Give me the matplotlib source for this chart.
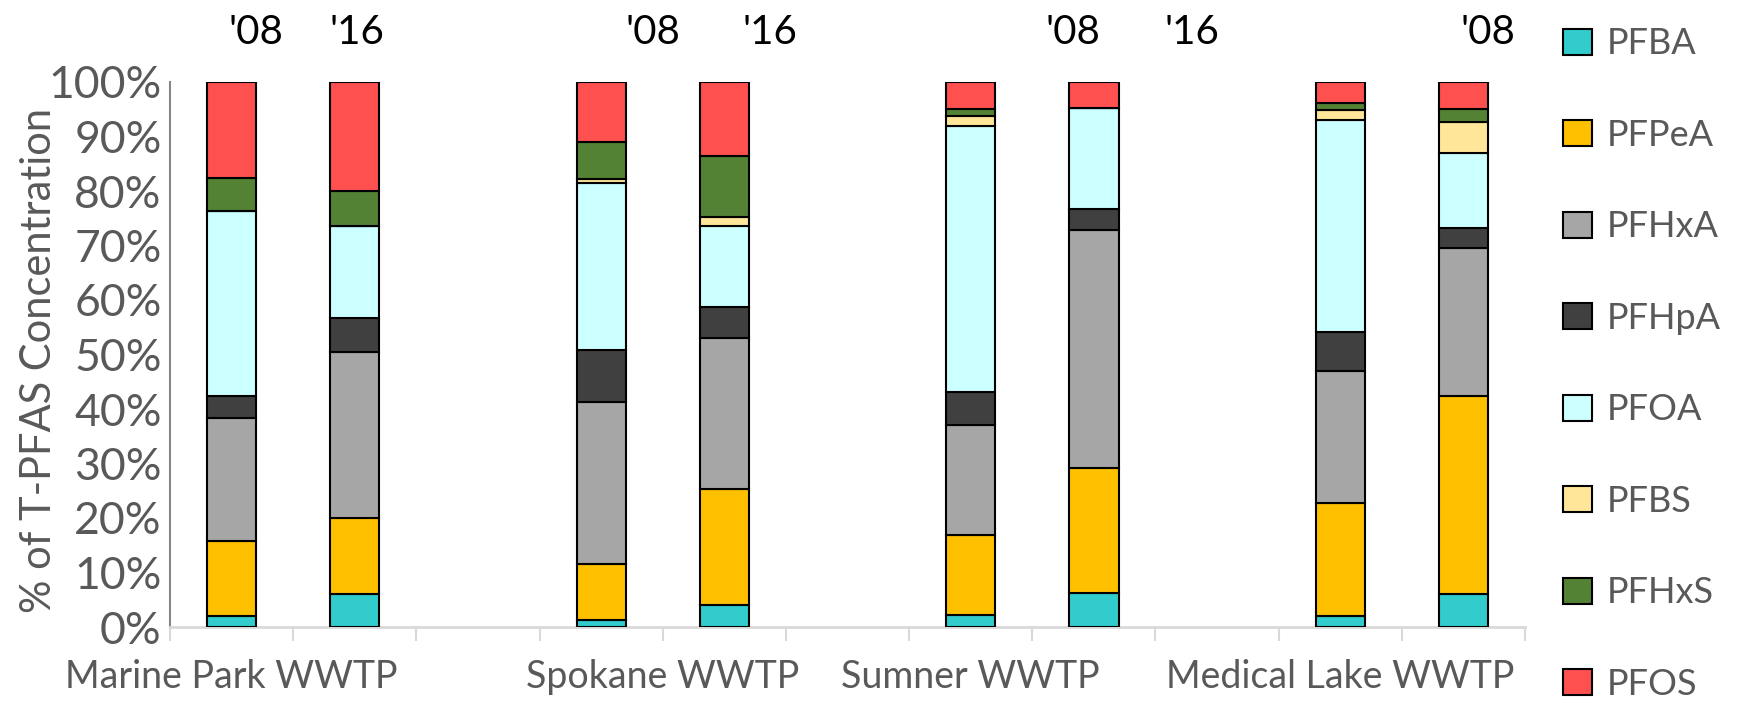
import matplotlib as mpl
mpl.use('Agg')
import matplotlib.pyplot as plt
from matplotlib.patches import Patch
import numpy as np

# Data: % of T-PFAS per sample ('08 and '16 at each plant)
plants = ['Marine Park WWTP', 'Spokane WWTP', 'Sumner WWTP', 'Medical Lake WWTP']
years = ["'08", "'16"]
compounds = ['PFBA', 'PFPeA', 'PFHxA', 'PFHpA', 'PFOA', 'PFBS', 'PFHxS', 'PFOS']

# one value per bar: MP'08, MP'16, SP'08, SP'16, SU'08, SU'16, ML'08, ML'16
pfba  = [2.1, 6.1, 1.3, 4.0, 2.2, 6.2, 2.0, 6.0]
pfpea = [13.7, 13.9, 10.3, 21.3, 14.7, 22.9, 20.7, 36.4]
pfhxa = [22.5, 30.5, 29.6, 27.7, 20.1, 43.8, 24.2, 27.2]
pfhpa = [4.0, 6.2, 9.6, 5.8, 6.2, 3.8, 7.2, 3.6]
pfoa  = [34.0, 16.9, 30.6, 14.7, 48.8, 18.6, 38.9, 13.8]
pfbs  = [0.0, 0.0, 0.8, 1.7, 1.7, 0.0, 1.8, 5.7]
pfhxs = [6.1, 6.4, 6.8, 11.2, 1.4, 0.0, 1.3, 2.3]
pfos  = [17.6, 20.0, 11.0, 13.6, 4.9, 4.7, 3.9, 5.0]

series = [pfba, pfpea, pfhxa, pfhpa, pfoa, pfbs, pfhxs, pfos]
colors = ['#33CCCC', '#FFC000', '#A6A6A6', '#404040', '#CCFFFF', '#FFE699', '#548235', '#FF5050']

# year labels above the chart (as placed in the original figure)
top_labels = ["'08", "'16", "'08", "'16", "'08", "'16", "'08"]
top_label_x = [0.2, 1.02, 3.42, 4.37, 6.83, 7.8, 10.2]
plant_label_x = [0, 3.5, 6, 9]

gray = '#595959'
plt.rcParams['font.family'] = ['Lato', 'DejaVu Sans']

fig = plt.figure(figsize=(17.43, 7.04), dpi=100)
ax = fig.add_axes([170/1743, 1-627/704, 1355/1743, 545/704])

# bar positions: two bars per plant, one empty slot between plants
xpos = []
for g in range(len(plants)):
    xpos += [3*g, 3*g+1]
xpos = np.array(xpos)

bottom = np.zeros(len(xpos))
for name, vals, col in zip(compounds, series, colors):
    vals = np.array(vals)
    ax.bar(xpos, vals, 0.4, bottom=bottom, color=col, edgecolor='black', linewidth=1.5, label=name, zorder=3)
    bottom += vals

ax.set_xlim(-0.5, 10.5)
ax.set_ylim(0, 100)

# Y axis
ax.set_yticks(range(0, 101, 10))
ax.set_yticklabels([str(v)+'%' for v in range(0, 101, 10)], fontsize=32, color=gray)
ax.tick_params(axis='y', length=0, pad=6)
fig.text(39/1743, 1-360/704, '% of T-PFAS Concentration', rotation=90, fontsize=30, color=gray, ha='center', va='center')

# X axis: tick marks at slot boundaries, plant names as text
ax.set_xticks(np.arange(-0.5, 10.6, 1))
ax.set_xticklabels([])
ax.tick_params(axis='x', which='major', length=10, width=1.5, color='#D9D9D9')
for name, xp in zip(plants, plant_label_x):
    ax.text(xp, -50/545, name, transform=ax.get_xaxis_transform(), fontsize=27, color=gray, ha='center', va='center')

for s in ['top', 'right']:
    ax.spines[s].set_visible(False)
ax.spines['bottom'].set_color('#D9D9D9')
ax.spines['bottom'].set_linewidth(2)
ax.spines['left'].set_color('#868686')
ax.spines['left'].set_linewidth(1.5)

# year labels on top
for lab, xp in zip(top_labels, top_label_x):
    ax.text(xp, 1 + 50/545, lab, transform=ax.get_xaxis_transform(), fontsize=29, color='black', ha='center', va='center')

# Legend
handles = [Patch(facecolor=c, edgecolor='black', linewidth=1.5) for c in colors]
fig.legend(handles, compounds, loc='center left', bbox_to_anchor=(1563/1743, 1-364/704), frameon=False,
           fontsize=26, labelcolor=gray, handlelength=0.8, handleheight=0.72, handletextpad=0.4,
           labelspacing=1.62, borderpad=0, borderaxespad=0)

plt.savefig('out.png', dpi=100)
plt.close()
